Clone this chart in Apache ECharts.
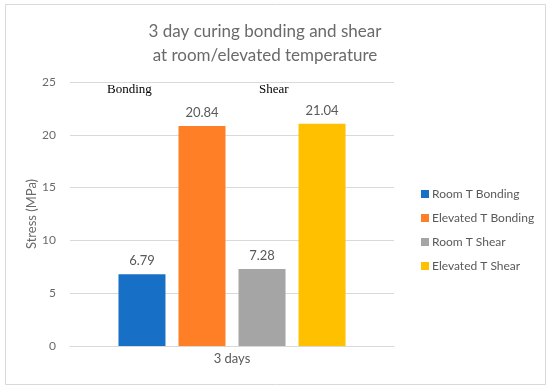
<!DOCTYPE html>
<html><head><meta charset="utf-8">
<script src="https://cdn.jsdelivr.net/npm/echarts@6/dist/echarts.min.js"></script>
<style>html,body{margin:0;padding:0;background:#fff}#c{width:550px;height:391px}</style>
</head><body><div id="c"></div>
<script>
const categories = ['3 days'];
const seriesNames = ['Room T Bonding', 'Elevated T Bonding', 'Room T Shear', 'Elevated T Shear'];
const roomBonding = [6.79];
const elevatedBonding = [20.84];
const roomShear = [7.28];
const elevatedShear = [21.04];
const colors = ['#1870C6', '#FF7F27', '#A5A5A5', '#FFC000'];
const values = [roomBonding, elevatedBonding, roomShear, elevatedShear];
const FONT = 'Lato, "Open Sans", sans-serif';
const chart = echarts.init(document.getElementById('c'));
chart.setOption({
  animation: false,
  title: {
    text: '3 day curing bonding and shear\nat room/elevated temperature',
    left: 260, top: 15, textAlign: 'center',
    textStyle: { fontFamily: FONT, fontWeight: 'normal', fontSize: 17, color: '#6A6A6A', lineHeight: 24 }
  },
  legend: {
    orient: 'vertical', left: 416, top: 182,
    itemWidth: 8, itemHeight: 8, itemGap: 10, icon: 'rect',
    textStyle: { fontFamily: FONT, fontSize: 12, color: '#595959', lineHeight: 14, padding: [0,0,0,-2] },
    data: seriesNames
  },
  grid: { left: 70, right: 156, top: 82, bottom: 45 },
  xAxis: {
    type: 'category', data: categories,
    axisLine: { lineStyle: { color: '#D9D9D9' } },
    axisTick: { show: false },
    axisLabel: { fontFamily: FONT, fontSize: 13, color: '#595959', margin: 6 }
  },
  yAxis: {
    type: 'value', min: 0, max: 25, interval: 5,
    name: 'Stress (MPa)', nameLocation: 'middle', nameGap: 32, nameMoveOverlap: false,
    nameTextStyle: { fontFamily: FONT, fontSize: 13, color: '#6A6A6A' },
    axisLine: { show: false }, axisTick: { show: false },
    axisLabel: { fontFamily: FONT, fontSize: 12, color: '#6A6A6A', margin: 14 },
    splitLine: { lineStyle: { color: '#D9D9D9' } }
  },
  series: seriesNames.map((n, i) => ({
    name: n, type: 'bar', data: values[i],
    barWidth: 47, barGap: '27.7%',
    itemStyle: { color: colors[i] },
    label: { show: true, position: 'top', distance: 7, fontFamily: FONT, fontSize: 13, color: '#595959', formatter: p => p.value.toFixed(2) }
  })),
  graphic: [
    { type: 'rect', shape: { x: 5.5, y: 4.5, width: 540, height: 380 }, style: { fill: 'none', stroke: '#D9D9D9', lineWidth: 1 }, silent: true },
    { type: 'text', left: 107, top: 83, style: { text: 'Bonding', font: '13px "Liberation Serif", serif', fill: '#000' } },
    { type: 'text', left: 259, top: 83, style: { text: 'Shear', font: '13px "Liberation Serif", serif', fill: '#000' } }
  ]
});
</script></body></html>
